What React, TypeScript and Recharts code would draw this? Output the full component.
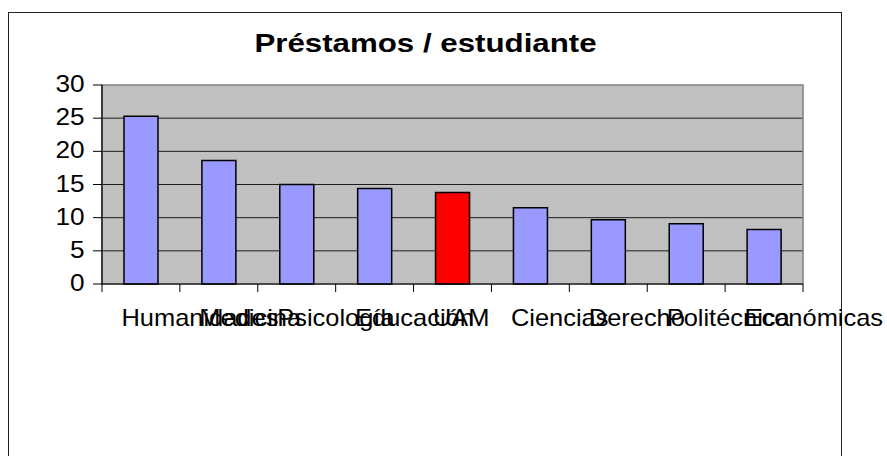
import React from 'react';
import { BarChart, Bar, XAxis, YAxis, CartesianGrid, ReferenceArea, Cell } from 'recharts';

const categories = ['Humanidades', 'Medicina', 'Psicología', 'Educación', 'UAM', 'Ciencias', 'Derecho', 'Politécnica', 'Económicas'];
const values = [25.3, 18.6, 15.0, 14.4, 13.8, 11.5, 9.7, 9.1, 8.2];
const highlighted = 'UAM';
const yTicks = [0, 5, 10, 15, 20, 25, 30];
const gridValues = [5, 10, 15, 20, 25];
const title = 'Préstamos / estudiante';

const data = categories.map((name, i) => ({ name, value: values[i] }));

const W = 887;
const H = 456;
const M = { top: 85, right: 84, left: 0, bottom: 132 };
const Y_AXIS_W = 102;
const X_AXIS_H = 40;
const PLOT_W = W - M.right - Y_AXIS_W;
const FONT = '"Liberation Sans", Arial, sans-serif';

function XTick(props: any) {
  const { x, y, payload, index } = props;
  const half = payload && payload.offset > 0 ? payload.offset : PLOT_W / categories.length / 2;
  const isLast = index === categories.length - 1;
  return (
    <g>
      <line x1={x - half} x2={x - half} y1={y} y2={y + 8} stroke="#000" strokeWidth={1} />
      {isLast && <line x1={x + half} x2={x + half} y1={y} y2={y + 8} stroke="#000" strokeWidth={1} />}
      <text
        transform={`translate(${x - 19.5},${y + 42}) scale(1.06,1)`}
        x={0}
        y={0}
        textAnchor="start"
        fontFamily={FONT}
        fontSize={24}
        fill="#000"
      >
        {payload.value}
      </text>
    </g>
  );
}

function YTick(props: any) {
  const { x, y, payload } = props;
  return (
    <text
      transform={`translate(${x - 6.5},${y + 7}) scale(1.1,1)`}
      x={0}
      y={0}
      textAnchor="end"
      fontFamily={FONT}
      fontSize={23.8}
      fill="#000"
    >
      {payload.value}
    </text>
  );
}

export default function App() {
  return (
    <div style={{ position: 'absolute', left: 0, top: 0, width: W, height: H, overflow: 'hidden', background: '#fff' }}>
      <div
        style={{
          position: 'absolute',
          left: 8,
          top: 12,
          width: 834,
          height: 520,
          border: '1.5px solid #222',
          boxSizing: 'border-box',
        }}
      />
      <svg style={{ position: 'absolute', left: 0, top: 0 }} width={W} height={70}>
        <text
          transform={`translate(425.5,52) scale(1.18,1)`}
          x={0}
          y={0}
          textAnchor="middle"
          fontFamily={FONT}
          fontWeight="bold"
          fontSize={26.5}
          fill="#000"
        >
          {title}
        </text>
      </svg>
      <div style={{ position: 'absolute', left: 0, top: 0 }}>
        <BarChart width={W} height={H} data={data} margin={M} barSize={34}>
          <CartesianGrid
            horizontal={true}
            vertical={false}
            horizontalValues={gridValues}
            fill="#C0C0C0"
            fillOpacity={1}
            stroke="#000"
            strokeOpacity={0.85}
          />
          <ReferenceArea y1={0} y2={30} fill="none" stroke="#808080" strokeWidth={1.5} ifOverflow="visible" />
          <XAxis
            dataKey="name"
            height={X_AXIS_H}
            interval={0}
            tickSize={0}
            tickMargin={0}
            tickLine={false}
            axisLine={{ stroke: '#000', strokeWidth: 1.2 }}
            tick={<XTick />}
          />
          <YAxis
            width={Y_AXIS_W}
            domain={[0, 30]}
            ticks={yTicks}
            interval={0}
            tickSize={9}
            tickMargin={2}
            axisLine={{ stroke: '#000', strokeWidth: 1.2 }}
            tickLine={{ stroke: '#000', strokeWidth: 1 }}
            tick={<YTick />}
          />
          <Bar dataKey="value" isAnimationActive={false} stroke="#000" strokeWidth={1.5}>
            {data.map((d) => (
              <Cell key={d.name} fill={d.name === highlighted ? '#FF0000' : '#9999FF'} />
            ))}
          </Bar>
        </BarChart>
      </div>
    </div>
  );
}
